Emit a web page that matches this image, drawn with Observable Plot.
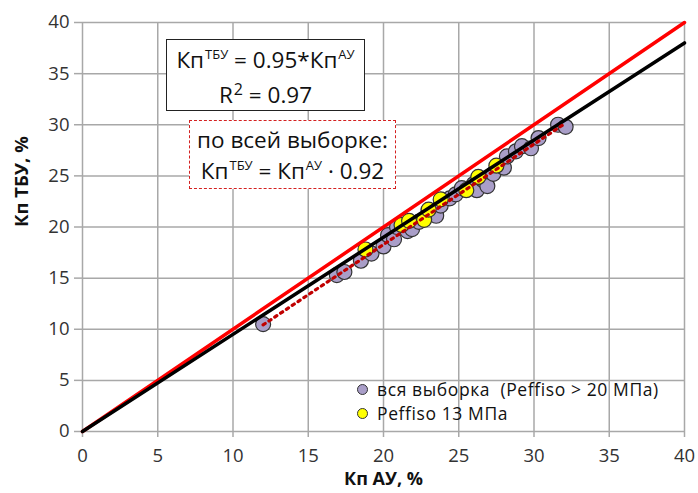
<!DOCTYPE html>
<html>
<head>
<meta charset="utf-8">
<script src="https://cdn.jsdelivr.net/npm/d3@7"></script>
<script src="https://cdn.jsdelivr.net/npm/@observablehq/plot@0.6"></script>
<style>
  html, body { margin: 0; padding: 0; background: #fff; }
  #wrap { position: relative; width: 698px; height: 493px; font-family: "Open Sans", "Noto Sans", sans-serif; }
  .box { position: absolute; background: #fff; text-align: center; color: #111; font-size: 22.5px; line-height: 31px; box-sizing: border-box; }
  .box sup { font-size: 13px; vertical-align: 0; position: relative; top: -9px; margin-left: 1px; }
  #box1 { left: 166px; top: 39px; width: 199px; height: 72px; border: 1.5px solid #222; padding-top: 4px; }
  #box2 { left: 189px; top: 120px; width: 207px; height: 69px; border: 1.5px dashed #d42020; padding-top: 3px; }
  #legend { position: absolute; left: 357px; top: 377px; font-size: 17.5px; letter-spacing: 0.6px; color: #111; line-height: 24px; }
  .li { display: flex; align-items: center; white-space: pre; height: 24px; }
  .mk { width: 11px; height: 11px; border-radius: 50%; border: 1.3px solid #333; margin-right: 9px; box-sizing: border-box; }
</style>
</head>
<body>
<div id="wrap"></div>
<script>
// ---- data ----
const xTicks = [0, 5, 10, 15, 20, 25, 30, 35, 40];
const yTicks = [0, 5, 10, 15, 20, 25, 30, 35, 40];

// whole sample (Peffiso > 20 MPa)
const allX = [12.0, 16.9, 17.4, 18.5, 19.2, 20.0, 20.3, 20.7, 20.9, 21.6, 21.9, 22.35, 23.0, 23.5, 23.8, 24.4, 24.8, 25.2, 26.0, 26.2, 26.6, 26.9, 27.3, 28.0, 28.2, 28.8, 29.2, 29.8, 30.3, 31.6, 32.1];
const allY = [10.5, 15.3, 15.6, 16.7, 17.4, 18.1, 19.2, 18.8, 20.0, 19.6, 19.8, 20.5, 21.6, 21.1, 22.1, 22.8, 23.2, 23.8, 24.2, 23.6, 24.6, 24.0, 25.2, 25.8, 26.9, 27.4, 27.9, 27.7, 28.7, 30.0, 29.8];

// Peffiso 13 MPa
const p13X = [18.8, 21.2, 21.7, 22.7, 23.0, 23.8, 25.5, 26.3, 27.5];
const p13Y = [17.8, 20.2, 20.6, 20.7, 21.7, 22.7, 23.6, 24.9, 26.0];

// reference lines: y = x (red) and fit y = 0.95x (black)
const lineX = [0, 40];
const redSlope = 1;
const blackSlope = 0.95;

const allData = allX.map((x, i) => ({x, y: allY[i]}));
const p13Data = p13X.map((x, i) => ({x, y: p13Y[i]}));

const gridColor = "#a8a8a8";
const textColor = "#333";

const chart = Plot.plot({
  width: 698,
  height: 493,
  marginLeft: 82,
  marginRight: 14,
  marginTop: 22,
  marginBottom: 62,
  style: { fontFamily: '"Open Sans", "Noto Sans", sans-serif', color: textColor, background: "#fff" },
  x: { domain: [0, 40] },
  y: { domain: [0, 40] },
  marks: [
    Plot.gridX(xTicks, { stroke: gridColor, strokeOpacity: 1, strokeWidth: 1.5 }),
    Plot.gridY(yTicks, { stroke: gridColor, strokeOpacity: 1, strokeWidth: 1.5 }),
    Plot.axisX(xTicks, { tickSize: 6, tickPadding: 11, stroke: gridColor, strokeWidth: 1.5, fontSize: 18.5, fill: textColor, label: null }),
    Plot.axisY(yTicks, { tickSize: 8, tickPadding: 5, stroke: gridColor, strokeWidth: 1.5, fontSize: 18.5, fill: textColor, label: null }),
    Plot.dot(allData, { x: "x", y: "y", r: 7.5, fill: "#a99ec8", stroke: "#333", strokeWidth: 1.2 }),
    Plot.dot(p13Data, { x: "x", y: "y", r: 7.5, fill: "#ffff00", stroke: "#333", strokeWidth: 1.2 }),
    Plot.line(lineX, { x: d => d, y: d => d * redSlope, stroke: "#ff0000", strokeWidth: 3.5 }),
    Plot.line(lineX, { x: d => d, y: d => d * blackSlope, stroke: "#000", strokeWidth: 3.5 }),
    Plot.linearRegressionY(allData, { x: "x", y: "y", ci: 0, stroke: "#c00000", strokeWidth: 3.2, strokeDasharray: "2.5,4.5" }),
    Plot.text(["Кп ТБУ, %"], { frameAnchor: "left", rotate: -90, dx: -60, fontSize: 18.5, fontWeight: "bold", fill: "#111" }),
    Plot.text(["Кп АУ, %"], { frameAnchor: "bottom", dy: 53, fontSize: 18, fontWeight: "bold", fill: "#111" })
  ]
});

const wrap = document.getElementById("wrap");
wrap.appendChild(chart);
wrap.insertAdjacentHTML("beforeend", `
  <div class="box" id="box1"><div>Кп<sup>ТБУ</sup> = 0.95*Кп<sup>АУ</sup></div><div>R<sup style="font-size:16px;top:-8px">2</sup> = 0.97</div></div>
  <div class="box" id="box2"><div>по всей выборке:</div><div>Кп<sup>ТБУ</sup> = Кп<sup>АУ</sup> · 0.92</div></div>
  <div id="legend">
    <div class="li"><span class="mk" style="background:#a99ec8"></span>вся выборка  (Peffiso &gt; 20 МПа)</div>
    <div class="li"><span class="mk" style="background:#ffff00"></span>Peffiso 13 МПа</div>
  </div>
`);
</script>
</body>
</html>
